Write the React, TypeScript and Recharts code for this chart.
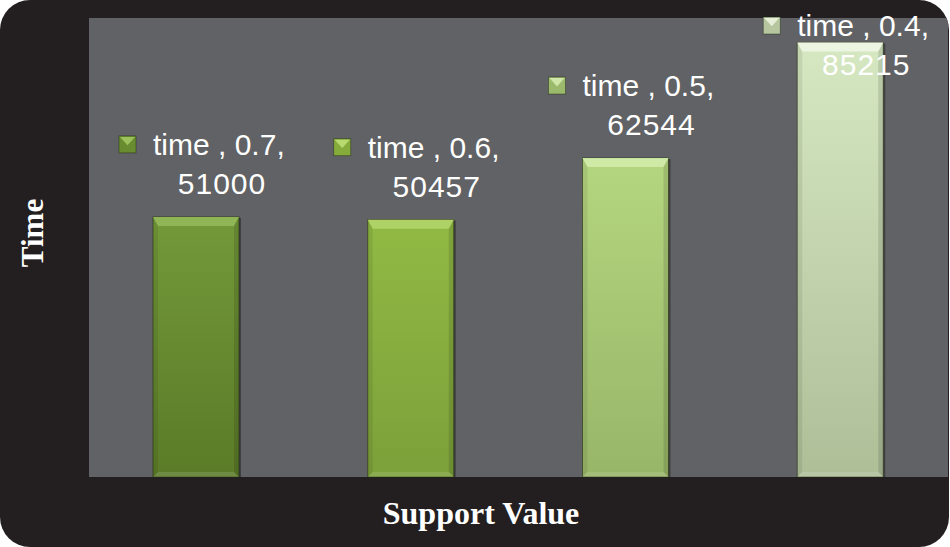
import React from 'react';
import { BarChart, Bar, XAxis, YAxis, CartesianGrid, LabelList, Customized } from 'recharts';

// ---- data ----
const categories = ['0.7', '0.6', '0.5', '0.4'];
const timeValues = [51000, 50457, 62544, 85215];
const seriesName = 'time';
const yTicks = [0, 90000];
const xAxisTitle = 'Support Value';
const yAxisTitle = 'Time';

// ---- styles ----
const barTop = ['#73993a', '#91ba44', '#b5d680', '#d6e8c2'];
const barBottom = ['#5b7b28', '#7ca03a', '#98b668', '#aebf98'];
const bevelLight = ['#94b85a', '#b2d56c', '#d2ecaa', '#eef6e4'];
const markerColors = ['#6a8c30', '#86ac3c', '#9cba6c', '#b6c69e'];
const markerLight = ['#9cc05c', '#b8da70', '#cfe6a8', '#e6eed8'];

const data = categories.map((c, i) => ({ support: c, time: timeValues[i] }));

const BevelBar = (props: any) => {
  const { x, y, width, height, index } = props;
  if (!width || !height) return null;
  const i = index ?? 0;
  const b = 9;
  const s = 5;
  const gid = `bargrad-${i}`;
  return (
    <g>
      <defs>
        <linearGradient id={gid} x1="0" y1="0" x2="0" y2="1">
          <stop offset="0%" stopColor={barTop[i]} />
          <stop offset="100%" stopColor={barBottom[i]} />
        </linearGradient>
      </defs>
      <rect x={x + 2} y={y + 1} width={width} height={height - 1} fill="rgba(0,0,0,0.35)" />
      <rect x={x} y={y} width={width} height={height} fill={`url(#${gid})`} stroke="rgba(30,40,10,0.55)" strokeWidth={1} />
      <polygon
        points={`${x},${y} ${x + width},${y} ${x + width - s},${y + b} ${x + s},${y + b}`}
        fill={bevelLight[i]}
        opacity={0.9}
      />
      <polygon
        points={`${x},${y} ${x + s},${y + b} ${x + s},${y + height - s} ${x},${y + height}`}
        fill="rgba(0,0,0,0.08)"
      />
      <polygon
        points={`${x + width},${y} ${x + width - s},${y + b} ${x + width - s},${y + height - s} ${x + width},${y + height}`}
        fill="rgba(0,0,0,0.12)"
      />
      <polygon
        points={`${x},${y + height} ${x + s},${y + height - s} ${x + width - s},${y + height - s} ${x + width},${y + height}`}
        fill="rgba(255,255,255,0.12)"
      />
    </g>
  );
};

const DataLabel = (props: any) => {
  const { x, y, width, value } = props;
  let i = props.index;
  if (i === undefined || i === null) i = timeValues.indexOf(value);
  const cx = x + width / 2;
  const base1 = Math.max(y - 62, 36);
  const base2 = base1 + 39;
  const mx = cx - 77;
  const my = base1 - 19;
  const m = 17;
  return (
    <g>
      <rect x={mx} y={my} width={m} height={m} fill={markerColors[i]} stroke="rgba(20,30,10,0.5)" strokeWidth={0.8} />
      <polygon points={`${mx + 1},${my + 1} ${mx + m - 1},${my + 1} ${mx + m / 2},${my + m * 0.55}`} fill={markerLight[i]} />
      <text
        x={cx - 43}
        y={base1}
        fill="#ffffff"
        fontFamily="'Liberation Sans', Arial, sans-serif"
        fontSize={30}
        textAnchor="start"
      >
        {`${seriesName} , ${categories[i]},`}
      </text>
      <text
        x={cx + 26}
        y={base2}
        fill="#ffffff"
        fontFamily="'Liberation Sans', Arial, sans-serif"
        fontSize={30}
        letterSpacing={1}
        textAnchor="middle"
      >
        {value}
      </text>
    </g>
  );
};

const Titles = () => (
  <g>
    <text
      x={481}
      y={524}
      fill="#ffffff"
      fontFamily="'Liberation Serif', 'Times New Roman', serif"
      fontWeight="bold"
      fontSize={32}
      textAnchor="middle"
    >
      {xAxisTitle}
    </text>
    <text
      x={43}
      y={233}
      transform="rotate(-90, 43, 233)"
      fill="#ffffff"
      fontFamily="'Liberation Serif', 'Times New Roman', serif"
      fontWeight="bold"
      fontSize={31}
      textAnchor="middle"
    >
      {yAxisTitle}
    </text>
  </g>
);

export default function App() {
  return (
    <div
      style={{
        position: 'absolute',
        left: 0,
        top: 0,
        width: 949,
        height: 547,
        background: '#231f20',
        borderRadius: 30,
        overflow: 'hidden',
      }}
    >
      <BarChart
        width={950}
        height={547}
        data={data}
        margin={{ top: 18, right: 2, left: 89, bottom: 70 }}
      >
        <CartesianGrid fill="#616265" stroke="none" horizontal={false} vertical={false} />
        <XAxis dataKey="support" hide />
        <YAxis hide domain={[yTicks[0], yTicks[1]]} ticks={yTicks} />
        <Bar dataKey="time" name={seriesName} barSize={86} shape={<BevelBar />} isAnimationActive={false}>
          <LabelList dataKey="time" content={<DataLabel />} />
        </Bar>
        <Customized component={Titles} />
      </BarChart>
    </div>
  );
}
